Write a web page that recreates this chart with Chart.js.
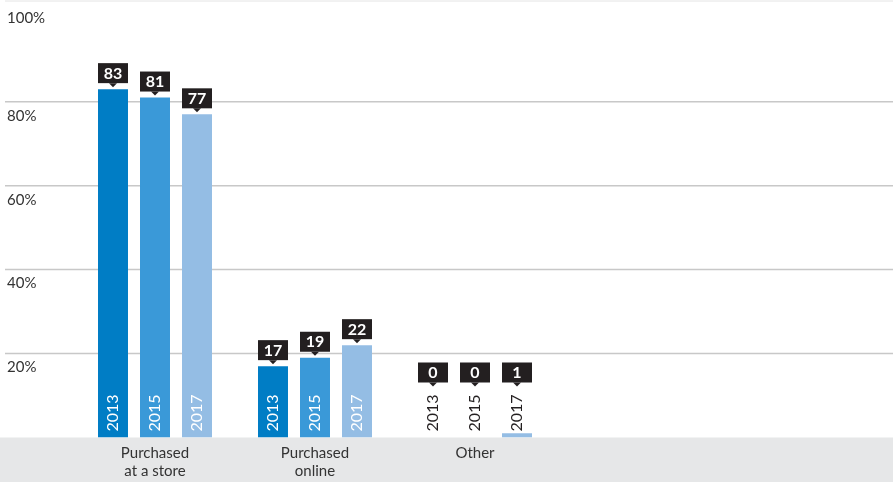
<!DOCTYPE html>
<html>
<head>
<meta charset="utf-8">
<script src="https://cdn.jsdelivr.net/npm/chart.js@4.4.0/dist/chart.umd.min.js"></script>
<style>
  body { margin: 0; background: #fff; }
</style>
</head>
<body>
<canvas id="chart" width="893" height="482"></canvas>
<script>
const categories = [['Purchased', 'at a store'], ['Purchased', 'online'], ['Other']];
const years = ['2013', '2015', '2017'];
const values2013 = [83, 17, 0];
const values2015 = [81, 19, 0];
const values2017 = [77, 22, 1];
const yTicks = [20, 40, 60, 80, 100];
const colors = ['#007dc5', '#3a99d8', '#94bde4'];

// gray band, gridlines across the full width, and the boxed value labels
const decorations = {
  id: 'decorations',
  beforeDraw(chart) {
    const { ctx, chartArea, scales: { y } } = chart;
    ctx.save();
    ctx.fillStyle = '#e6e7e8';
    ctx.fillRect(0, chartArea.bottom, chart.width, chart.height - chartArea.bottom);
    ctx.font = '15px Lato';
    ctx.fillStyle = '#333';
    ctx.textAlign = 'left';
    ctx.textBaseline = 'middle';
    yTicks.forEach(v => {
      const top = v === 100;
      const py = top ? chartArea.top : y.getPixelForValue(v);
      ctx.strokeStyle = top ? '#e4e4e4' : '#c8c8c8';
      ctx.lineWidth = top ? 1 : 1.5;
      ctx.beginPath();
      ctx.moveTo(5, py);
      ctx.lineTo(chart.width, py);
      ctx.stroke();
      ctx.fillText(v + '%', 7, py + (top ? 17 : 14));
    });
    ctx.restore();
  },
  afterDatasetsDraw(chart) {
    const { ctx, chartArea } = chart;
    chart.data.datasets.forEach((ds, i) => {
      chart.getDatasetMeta(i).data.forEach((bar, j) => {
        const v = ds.data[j];
        // year inside the bar
        ctx.save();
        ctx.translate(bar.x, chartArea.bottom - 6);
        ctx.rotate(-Math.PI / 2);
        ctx.font = '16px Lato';
        ctx.fillStyle = v > 5 ? '#fff' : '#231f20';
        ctx.textAlign = 'left';
        ctx.textBaseline = 'middle';
        ctx.fillText(years[i], 0, 0);
        ctx.restore();

        // value box with pointer
        const anchor = Math.min(bar.y, chartArea.bottom - 49);
        const bottom = anchor - 6;
        const w = bar.width;
        ctx.save();
        ctx.fillStyle = '#231f20';
        ctx.fillRect(bar.x - w / 2, bottom - 20, w, 20);
        ctx.beginPath();
        ctx.moveTo(bar.x - 4, bottom);
        ctx.lineTo(bar.x + 4, bottom);
        ctx.lineTo(bar.x, bottom + 4);
        ctx.closePath();
        ctx.fill();
        ctx.font = 'bold 16px Lato';
        ctx.fillStyle = '#fff';
        ctx.textAlign = 'center';
        ctx.textBaseline = 'middle';
        ctx.fillText(String(v), bar.x, bottom - 9.5);
        ctx.restore();
      });
    });
  }
};

new Chart(document.getElementById('chart'), {
  type: 'bar',
  data: {
    labels: categories,
    datasets: [
      { label: years[0], data: values2013, backgroundColor: colors[0] },
      { label: years[1], data: values2015, backgroundColor: colors[1] },
      { label: years[2], data: values2017, backgroundColor: colors[2] }
    ]
  },
  options: {
    responsive: false,
    animation: false,
    categoryPercentage: 0.7875,
    barPercentage: 0.714,
    layout: { padding: { left: 75, right: 338, top: 1, bottom: 0 } },
    plugins: { legend: { display: false }, tooltip: { enabled: false } },
    scales: {
      x: {
        grid: { display: false, drawTicks: false },
        border: { display: false },
        ticks: {
          color: '#333',
          font: { family: 'Lato', size: 15, lineHeight: 1.2 },
          padding: 7,
          maxRotation: 0,
          autoSkip: false
        },
        afterFit(scale) { scale.height = 44.5; }
      },
      y: { display: false, min: 0, max: 104 }
    }
  },
  plugins: [decorations]
});
</script>
</body>
</html>
